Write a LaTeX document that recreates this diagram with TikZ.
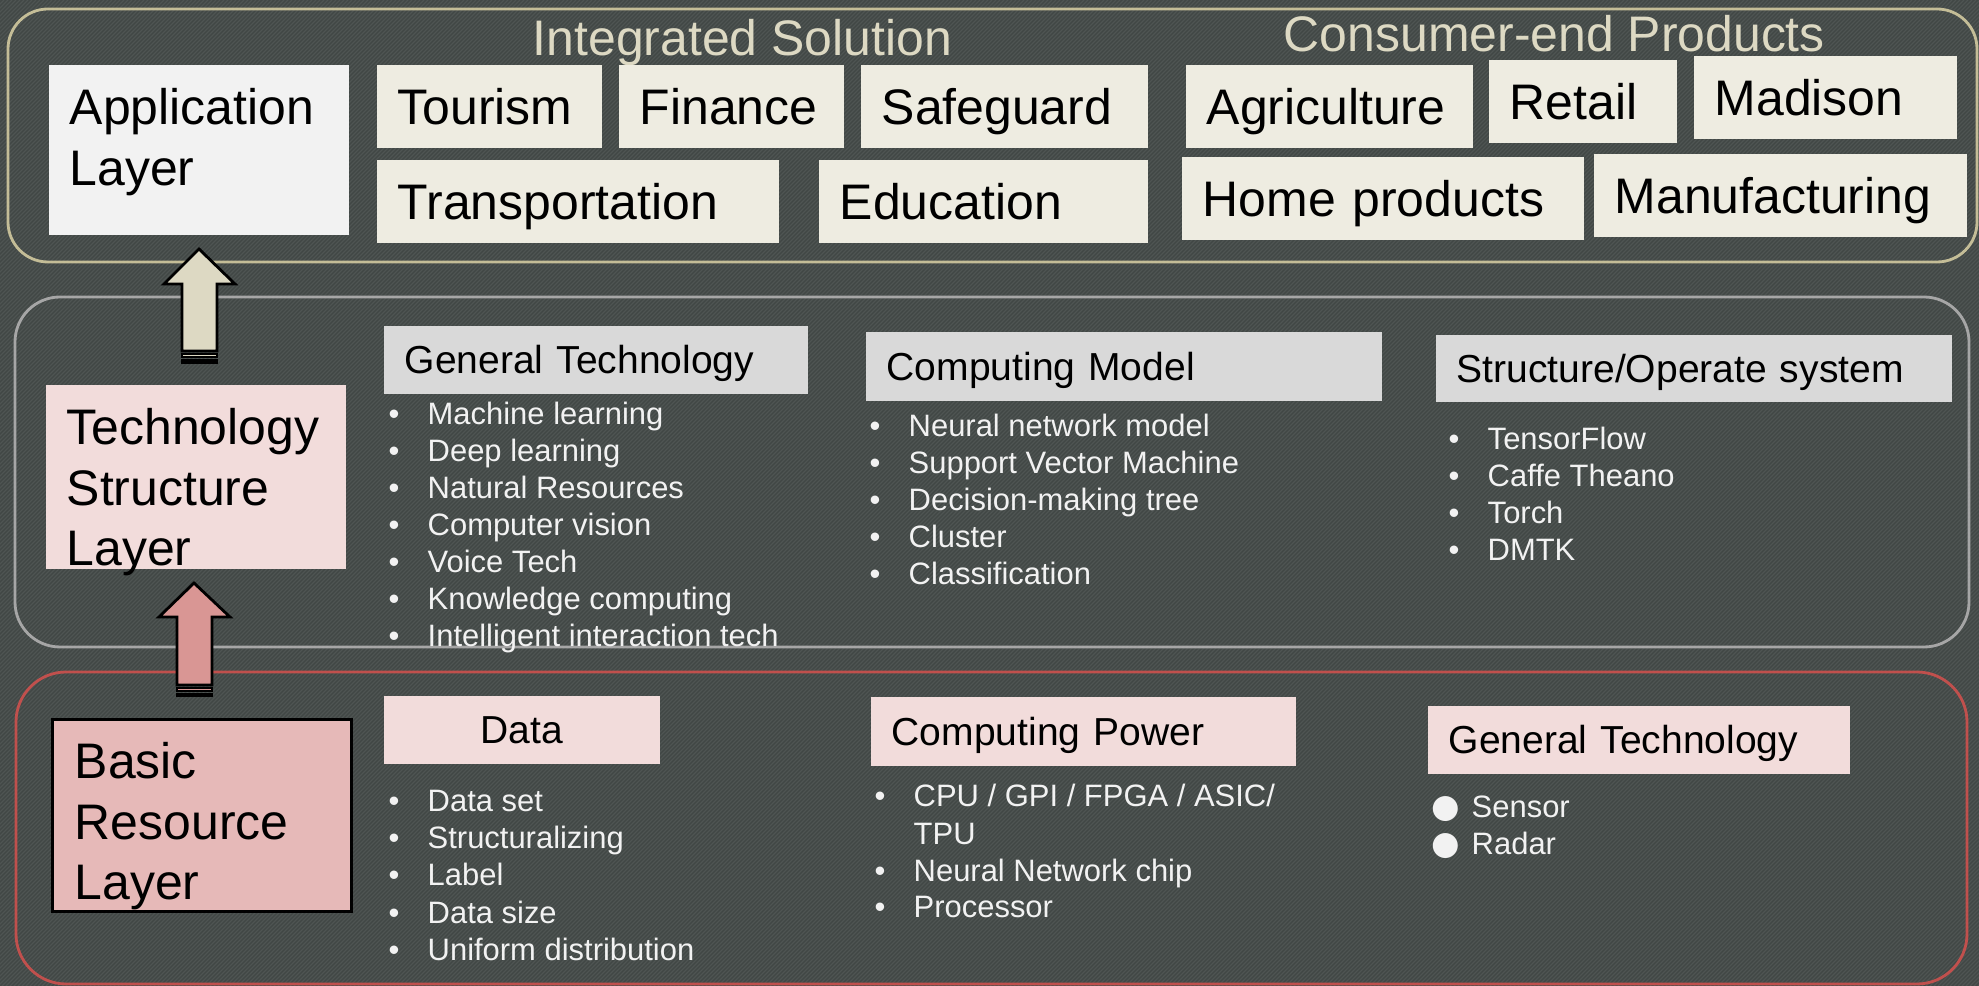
\documentclass[tikz,border=0pt]{standalone}
\usepackage{fontspec}
\setmainfont{Liberation Sans}
\newfontfamily\symfont{DejaVu Sans}
\hyphenpenalty=10000

\definecolor{bgdark}{HTML}{414745}
\definecolor{bgline}{HTML}{4F5553}
\definecolor{frametan}{HTML}{C4BD97}
\definecolor{framegray}{HTML}{A6A6A6}
\definecolor{framered}{HTML}{C0504D}
\definecolor{boxbeige}{HTML}{EEECE1}
\definecolor{boxgray}{HTML}{F2F2F2}
\definecolor{headgray}{HTML}{D9D9D9}
\definecolor{pinklight}{HTML}{F2DCDB}
\definecolor{pinkmid}{HTML}{E6B9B8}
\definecolor{titletan}{HTML}{DDD9C3}
\definecolor{itemwhite}{HTML}{F2F2F2}
\definecolor{arrowtan}{HTML}{DDD9C3}
\definecolor{arrowpink}{HTML}{D99694}

\newcommand\fbig{\fontsize{14.2pt}{17.1pt}\selectfont}
\newcommand\flayer{\fontsize{14.2pt}{17.2pt}\selectfont}
\newcommand\fhead{\fontsize{11.1pt}{13.3pt}\selectfont}
\newcommand\fitem{\fontsize{8.8pt}{10.5pt}\selectfont}
\newcommand\bul{\makebox[0.39cm][l]{•}}
\newcommand\bigbul{\makebox[0.40cm][l]{{\symfont\fontsize{9.3pt}{9.3pt}\selectfont ●}}}

\begin{document}
\begin{tikzpicture}[x=0.01cm, y=-0.01cm,
    top box/.style={anchor=north west, fill=boxbeige, minimum height=0.83cm, inner xsep=0.21cm,
                    inner ysep=0pt, text height=0.36cm, text depth=0cm, align=left, text width=#1, font=\fbig},
    head box/.style={anchor=north west, minimum height=0.68cm, inner xsep=0.21cm, inner ysep=0pt,
                     text height=0.28cm, text depth=0cm, align=left, text width=#1, font=\fhead},
    layer box/.style={anchor=north west, minimum width=3cm, inner sep=0pt},
    layer text/.style={anchor=north west, inner sep=0pt, align=left, font=\flayer},
    head title/.style={anchor=base west, inner sep=0pt, text=titletan, font=\fbig},
    list item/.style={anchor=base west, inner sep=0pt, text=itemwhite, font=\fitem},
    layer frame/.style={rounded corners=0.4cm, line width=0.8pt},
    block arrow/.style={draw=black, line width=0.8pt, line join=miter}]

\useasboundingbox (0,0) rectangle (1979,986);

% textured background
\fill[bgdark] (0,0) rectangle (1979,986);
\begin{scope}
  \clip (0,0) rectangle (1979,986);
  \foreach \k in {-990,-986,...,1979}
    \draw[bgline, line width=0.35pt] (\k,986) -- ++(986,-986);
\end{scope}

% layer frames
\draw[layer frame, draw=frametan] (8,9) rectangle (1977,262);
\draw[layer frame, draw=framegray, rounded corners=0.45cm] (15,297) rectangle (1969,647);
\draw[layer frame, draw=framered, rounded corners=0.5cm] (16,672) rectangle (1967,984);

% application layer
\node[head title] (integrated) at (532,56) {Integrated Solution};
\node[head title] (consumer) at (1283,52) {Consumer-end Products};

\node[layer box, fill=boxgray, minimum height=1.70cm] (app) at (48,64) {};
\node[layer text] (apptext) at (69,88) {Application\\Layer};

\node[top box=1.83cm] (tourism) at (376,64) {Tourism};
\node[top box=1.83cm] (finance) at (618,64) {Finance};
\node[top box=2.45cm] (safeguard) at (860,64) {Safeguard};
\node[top box=3.60cm] (transport) at (376,159) {Transportation};
\node[top box=2.87cm] (education) at (818,159) {Education};
\node[top box=2.45cm] (agriculture) at (1185,64) {Agriculture};
\node[top box=1.46cm] (retail) at (1488,59) {Retail};
\node[top box=2.21cm] (madison) at (1693,55) {Madison};
\node[top box=3.60cm] (homeprod) at (1181,156) {Home products};
\node[top box=3.31cm] (manufact) at (1593,153) {Manufacturing};

% technology structure layer
\node[layer box, fill=pinklight, minimum height=1.84cm] (tech) at (45,384) {};
\node[layer text] (techtext) at (66,408) {Technology\\Structure\\Layer};

\node[head box=3.82cm, fill=headgray] (gentech) at (383,325) {General Technology};
\node[head box=4.74cm, fill=headgray, minimum height=0.69cm] (compmodel) at (865,331) {Computing Model};
\node[head box=4.74cm, fill=headgray, minimum height=0.67cm] (structsys) at (1435,334) {Structure/Operate system};

\foreach \txt [count=\i] in {Machine learning, Deep learning, Natural Resources, Computer vision,
                             Voice Tech, Knowledge computing, Intelligent interaction tech}
  \node[list item] (gt\i) at (388,{425+36.9*(\i-1)}) {\bul\txt};
\foreach \txt [count=\i] in {Neural network model, Support Vector Machine, Decision-making tree,
                             Cluster, Classification}
  \node[list item] (cm\i) at (869,{437+36.9*(\i-1)}) {\bul\txt};
\foreach \txt [count=\i] in {TensorFlow, Caffe Theano, Torch, DMTK}
  \node[list item] (ss\i) at (1448,{450+36.9*(\i-1)}) {\bul\txt};

% basic resource layer
\node[layer box, fill=pinkmid, draw=black, line width=0.8pt, minimum width=2.99cm,
      minimum height=1.92cm] (basic) at (51,718) {};
\node[layer text] (basictext) at (74,742) {Basic\\Resource\\Layer};

\node[head box=2.34cm, fill=pinklight, align=center] (data) at (383,695) {Data};
\node[head box=3.83cm, fill=pinklight, minimum height=0.69cm] (comppower) at (870,696) {Computing Power};
\node[head box=3.80cm, fill=pinklight] (gentechb) at (1427,705) {General Technology};

\foreach \txt [count=\i] in {Data set, Structuralizing, Label, Data size, Uniform distribution}
  \node[list item] (dt\i) at (388,{812+37*(\i-1)}) {\bul\txt};

\node[list item] (cp1) at (874,807) {\bul CPU / GPI / FPGA / ASIC/};
\node[list item] (cp1b) at (913,844) {TPU};
\node[list item] (cp2) at (874,881) {\bul Neural Network chip};
\node[list item] (cp3) at (874,918) {\bul Processor};

\node[list item] (gb1) at (1431,818) {\bigbul Sensor};
\node[list item] (gb2) at (1431,855) {\bigbul Radar};

% block arrows between layers
\filldraw[block arrow, fill=arrowtan] (199,249) -- (235,284) -- (217,284) -- (217,351)
  -- (182,351) -- (182,284) -- (164,284) -- cycle;
\filldraw[block arrow, fill=arrowtan] (182,354) rectangle (217,357);
\fill[black] (181,359) rectangle (218,364);

\filldraw[block arrow, fill=arrowpink] (194,583) -- (230,617) -- (212,617) -- (212,685)
  -- (177,685) -- (177,617) -- (159,617) -- cycle;
\filldraw[block arrow, fill=arrowpink] (177,688) rectangle (212,691);
\fill[black] (176,693) rectangle (213,697);

\end{tikzpicture}
\end{document}
